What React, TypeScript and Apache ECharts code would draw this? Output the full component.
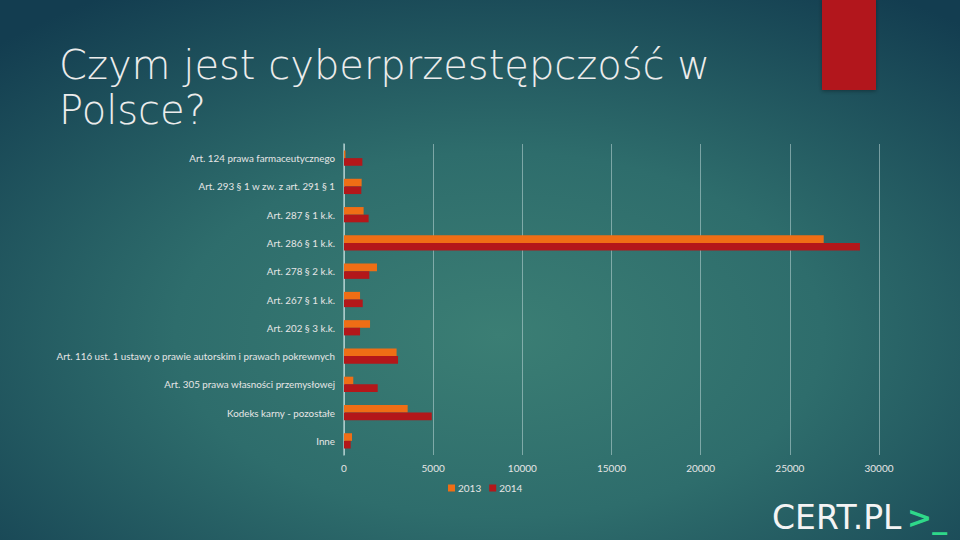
import React, { useEffect, useRef } from "react";
import * as echarts from "echarts";

const categories = [
  "Art. 124 prawa farmaceutycznego",
  "Art. 293 § 1 w zw. z art. 291 § 1",
  "Art. 287 § 1 k.k.",
  "Art. 286 § 1 k.k.",
  "Art. 278 § 2 k.k.",
  "Art. 267 § 1 k.k.",
  "Art. 202 § 3 k.k.",
  "Art. 116 ust. 1 ustawy o prawie autorskim i prawach pokrewnych",
  "Art. 305 prawa własności przemysłowej",
  "Kodeks karny - pozostałe",
  "Inne",
];

const values2013 = [80, 990, 1100, 26900, 1850, 900, 1460, 2950, 520, 3570, 450];
const values2014 = [1030, 970, 1380, 28930, 1420, 1050, 900, 3030, 1890, 4920, 375];

const seriesNames = ["2013", "2014"];
const titleText = "Czym jest cyberprzestępczość w\nPolsce?";

export default function App() {
  const ref = useRef<HTMLDivElement>(null);

  useEffect(() => {
    document.body.style.margin = "0";
    if (!ref.current) return;
    const chart = echarts.init(ref.current, null, { renderer: "svg" });
    const font = "Lato, 'Open Sans', sans-serif";
    chart.setOption({
      animation: false,
      backgroundColor: {
        type: "radial",
        x: 0.52,
        y: 0.62,
        r: 0.75,
        colorStops: [
          { offset: 0, color: "#3b7e74" },
          { offset: 0.45, color: "#2e6d6c" },
          { offset: 1, color: "#133d50" },
        ],
      },
      grid: { left: 344, right: 81, top: 144, bottom: 85, containLabel: false },
      legend: {
        data: seriesNames,
        left: 443,
        top: 478,
        itemWidth: 7,
        itemHeight: 7,
        itemGap: 8,
        icon: "rect",
        textStyle: { color: "#e6e6e6", fontSize: 10, fontFamily: font, padding: [0, 0, 0, -2] },
      },
      xAxis: {
        type: "value",
        min: 0,
        max: 30000,
        interval: 5000,
        axisLine: { show: false },
        axisTick: { show: false },
        axisLabel: {
          color: "#e6e6e6",
          fontSize: 10,
          fontFamily: font,
          margin: 8,
          formatter: (v: number) => String(v),
        },
        splitLine: { show: true, lineStyle: { color: "rgba(190,215,215,0.55)", width: 1 } },
      },
      yAxis: {
        type: "category",
        data: categories,
        inverse: true,
        axisLine: { show: true, lineStyle: { color: "rgba(200,225,225,0.75)", width: 1.5 } },
        axisTick: { show: false },
        axisLabel: { color: "#e6e6e6", fontSize: 9.8, fontFamily: font, margin: 9 },
      },
      series: [
        {
          name: seriesNames[0],
          type: "bar",
          data: values2013,
          barWidth: "27%",
          barGap: "0%",
          itemStyle: { color: "#ef6e15" },
        },
        {
          name: seriesNames[1],
          type: "bar",
          data: values2014,
          barWidth: "27%",
          barGap: "0%",
          itemStyle: { color: "#b3171a" },
        },
      ],
      graphic: [
        {
          type: "rect",
          shape: { x: 822, y: -2, width: 54, height: 92 },
          style: {
            fill: "#b2191b",
            shadowBlur: 4,
            shadowColor: "rgba(0,0,0,0.35)",
            shadowOffsetY: 1,
          },
          z: 10,
        },
        {
          type: "text",
          x: 59,
          y: 42,
          style: {
            text: titleText,
            fill: "#ececec",
            fontSize: 40,
            lineHeight: 45,
            fontFamily: "'DejaVu Sans', sans-serif",
            fontWeight: 200,
            verticalAlign: "top",
            align: "left",
          },
        },
        {
          type: "text",
          x: 772,
          y: 517,
          style: {
            text: "CERT.PL",
            fill: "#f4f4f4",
            fontSize: 33,
            fontFamily: "'DejaVu Sans', sans-serif",
            verticalAlign: "middle",
            align: "left",
          },
        },
        {
          type: "text",
          x: 907,
          y: 517,
          style: {
            text: ">_",
            fill: "#2fd88a",
            fontSize: 30,
            fontWeight: "bold",
            fontFamily: "'DejaVu Sans', sans-serif",
            verticalAlign: "middle",
            align: "left",
          },
        },
      ],
    });
    return () => chart.dispose();
  }, []);

  return <div ref={ref} style={{ width: 960, height: 540 }} />;
}
